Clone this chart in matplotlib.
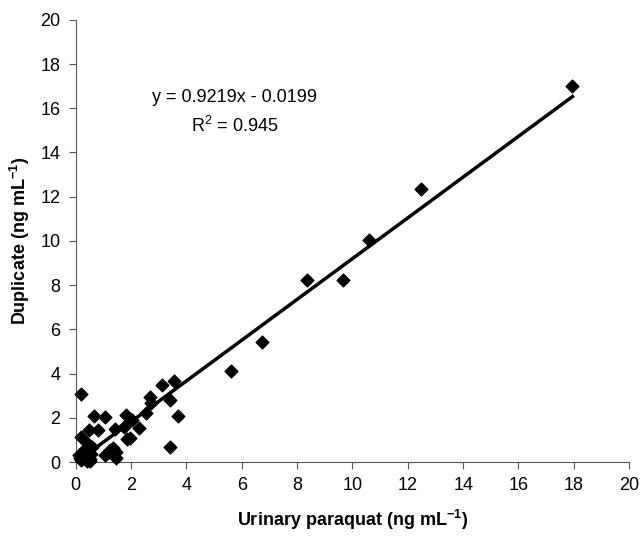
import numpy as np
import matplotlib
matplotlib.use("Agg")
import matplotlib.pyplot as plt

plt.rcParams["font.family"] = ["Liberation Sans", "DejaVu Sans"]
plt.rcParams["mathtext.fontset"] = "custom"
plt.rcParams["mathtext.rm"] = "Liberation Sans"
plt.rcParams["mathtext.bf"] = "Liberation Sans:bold"

# %% Data
urinary = [17.95, 12.46, 10.58, 9.67, 8.37, 6.74, 5.62,
           3.56, 3.13, 2.68, 2.72, 2.55, 3.42, 3.70, 3.40,
           1.83, 2.02, 1.74, 2.27, 1.97, 1.85,
           1.41, 1.35, 1.47, 1.45, 1.05, 1.23, 1.20,
           1.06, 0.65, 0.48, 0.82, 0.20, 0.20,
           0.10, 0.20, 0.30, 0.40, 0.50, 0.55, 0.35, 0.45, 0.25, 0.60, 0.15, 0.50]
duplicate = [17.00, 12.35, 10.04, 8.24, 8.24, 5.43, 4.12,
             3.66, 3.48, 2.95, 2.65, 2.20, 2.80, 2.08, 0.69,
             2.12, 1.90, 1.60, 1.52, 1.07, 1.05,
             1.48, 0.62, 0.47, 0.20, 0.34, 0.54, 0.45,
             2.05, 2.10, 1.45, 1.47, 3.06, 1.15,
             0.30, 0.10, 0.20, 0.05, 0.15, 0.35, 0.60, 0.80, 0.45, 0.70, 0.20, 0.05]
slope, intercept = 0.9219, -0.0199
r2 = 0.945

# %% Plot
fig = plt.figure(figsize=(6.42, 5.36), dpi=100)
ax = fig.add_axes([0.118, 0.138, 0.862, 0.825])

ax.scatter(urinary, duplicate, marker="D", s=42, color="black", zorder=3, clip_on=False)

xl = np.array([min(urinary), max(urinary)])
ax.plot(xl, slope * xl + intercept, color="black", lw=2.5, zorder=2)

ax.text(5.75, 16.5, "y = %.4fx - %.4f" % (slope, -intercept), ha="center", va="center", fontsize=13)
ax.text(5.75, 15.2, "R$^2$ = %.3f" % r2, ha="center", va="center", fontsize=13)

ax.set_xlim(0, 20)
ax.set_ylim(0, 20)
ax.set_xticks(range(0, 21, 2))
ax.set_yticks(range(0, 21, 2))
ax.tick_params(direction="out", length=5, labelsize=13, color="#555555", pad=6)
for side in ["top", "right"]:
    ax.spines[side].set_visible(False)
for side in ["left", "bottom"]:
    ax.spines[side].set_color("#555555")

ax.set_xlabel(r"Urinary paraquat (ng mL$^{\mathbf{-1}}$)", fontsize=13, fontweight="bold", labelpad=10)
ax.set_ylabel(r"Duplicate (ng mL$^{\mathbf{-1}}$)", fontsize=13, fontweight="bold", labelpad=6)

fig.savefig("out.png", dpi=100)
